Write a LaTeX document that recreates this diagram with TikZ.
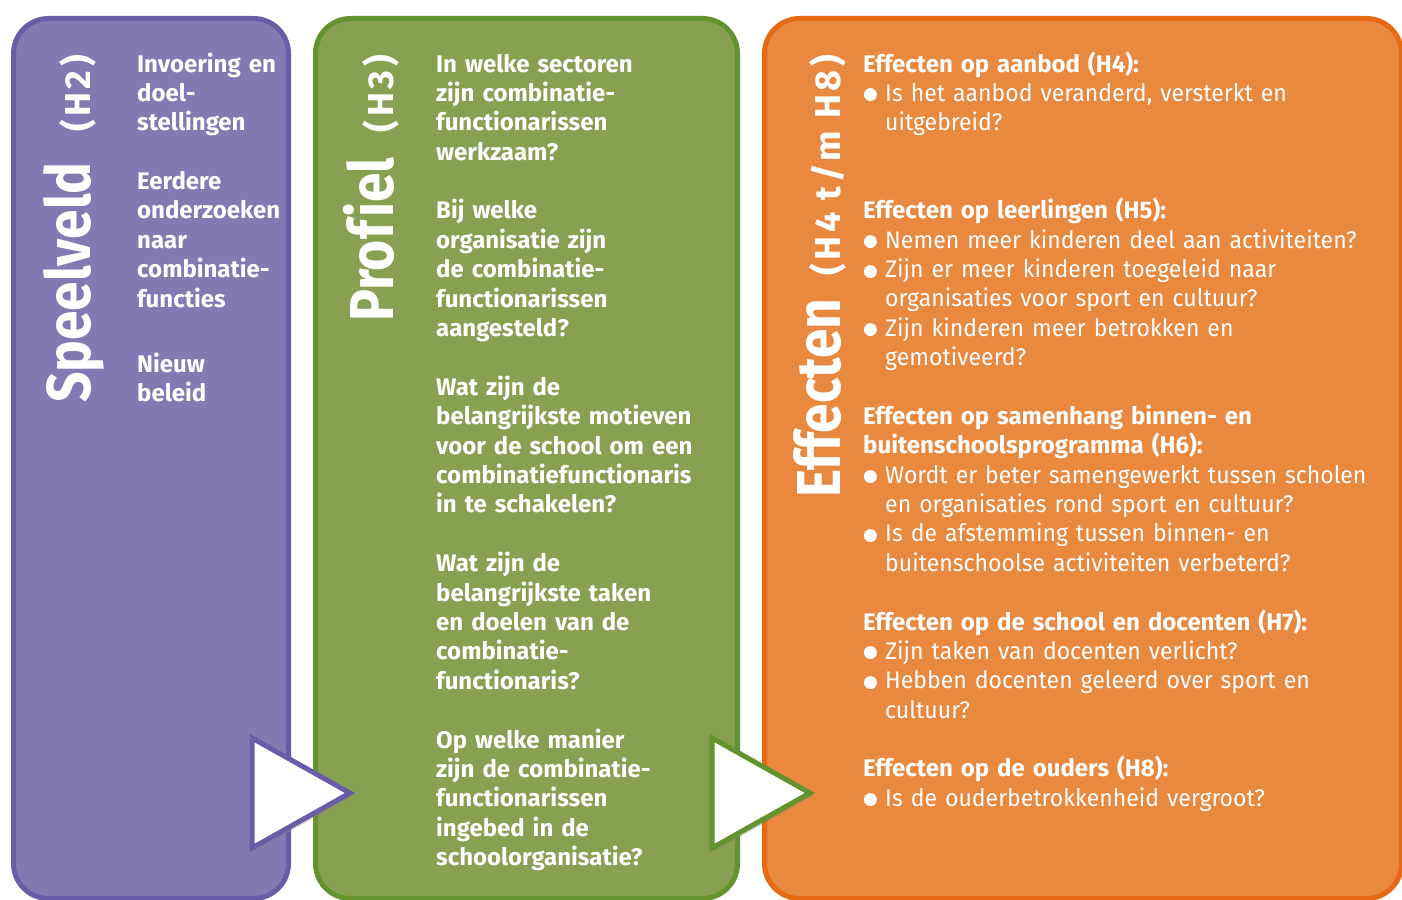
\documentclass[tikz,border=0pt]{standalone}
\usepackage{fontspec}
\setmainfont{Fira Sans}
\newfontfamily\titelfont{Fira Sans}[FakeStretch=0.86,Ligatures=NoCommon]
\newfontfamily\subtitelfont{Fira Sans}[LetterSpace=10]
\newfontfamily\bodyfont{Fira Sans}[FakeStretch=0.96]
\newfontfamily\symbfont{DejaVu Sans}
\usetikzlibrary{positioning,shadows}

\definecolor{paars}{HTML}{8479B3}
\definecolor{paarsrand}{HTML}{6A5CA6}
\definecolor{groen}{HTML}{88A052}
\definecolor{groenrand}{HTML}{63932D}
\definecolor{oranje}{HTML}{E9893F}
\definecolor{oranjerand}{HTML}{E56A12}

\newcommand{\blt}{\makebox[22pt][l]{\raisebox{1.5pt}{\symbfont\fontsize{17}{17}\selectfont ●}}}
\newcommand{\vraag}[1]{\par\hangindent=22pt\hangafter=1\noindent\blt#1}
\newcommand{\kop}[1]{{\rmfamily\bfseries #1}\par}
\newcommand{\leeg}{\par\vspace{29.37pt}}

\begin{document}
\begin{tikzpicture}[x=1pt,y=-1pt,
    panel/.style={draw,line width=5pt,rounded corners=35pt,inner sep=0pt,anchor=north west,
      minimum height=880pt,drop shadow={opacity=0.2,shadow xshift=2pt,shadow yshift=-2pt}},
    titel/.style={rotate=90,text=white,inner sep=0pt,font=\titelfont\bfseries\fontsize{62}{62}\selectfont},
    subtitel/.style={rotate=90,text=white,inner sep=0pt,anchor=base east,font=\subtitelfont\bfseries\fontsize{36}{36}\selectfont},
    tekst/.style={text=white,inner sep=0pt,anchor=base west,align=left,font=\bfseries\fontsize{24}{29.4}\selectfont},
    pijl/.style={fill=white,line width=5pt,line join=miter,drop shadow={opacity=0.3,shadow xshift=3pt,shadow yshift=-3pt}}]
  \fill[white] (0,0) rectangle (1402,899);
  \useasboundingbox (0,0) rectangle (1402,899);

  % de drie kolommen
  \node[panel,draw=paarsrand,fill=paars,minimum width=275pt]   (speelveld) at (11,16)  {};
  \node[panel,draw=groenrand,fill=groen,minimum width=422pt]   (profiel)   at (313,16) {};
  \node[panel,draw=oranjerand,fill=oranje,minimum width=637pt] (effecten)  at (762,16) {};

  % titels
  \node[titel,anchor=base west] (t1)  at (90,403)  {Speelveld};
  \node[subtitel]               (st1) at (90,55)   {(H2)};
  \node[titel,anchor=base west] (t2)  at (393,322) {Prof\kern3pt iel};
  \node[subtitel]               (st2) at (393,55)  {(H3)};
  \node[titel,anchor=base west] (t3)  at (840,498) {Effecten};
  \node[subtitel]               (st3) at (840,55)  {(H4 t/m H8)};

  % speelveld
  \node[tekst,text width=150pt] (inhoud) at (137,72)
    {Invoering en\\doel-\\stellingen\leeg Eerdere\\onderzoeken\\naar\\combinatie-\\functies};
  \node[tekst,text width=150pt] (beleid) at (137,372) {Nieuw\\beleid};

  % profiel
  \node[tekst,text width=295pt] (vragen) at (436,72)
    {In welke sectoren\\zijn combinatie-\\functionarissen\\werkzaam?\leeg
     Bij welke\\organisatie zijn\\de combinatie-\\functionarissen\\aangesteld?\leeg
     Wat zijn de\\belangrijkste motieven\\voor de school om een\\combinatiefunctionaris\\in te schakelen?\leeg
     Wat zijn de\\belangrijkste taken\\en doelen van de\\combinatie-\\functionaris?\leeg
     Op welke manier\\zijn de combinatie-\\functionarissen\\ingebed in de\\schoolorganisatie?};

  % effecten
  \node[tekst,text width=530pt,font=\bodyfont\mdseries\fontsize{24}{29.37}\selectfont] (lijst) at (863,72)
    {\kop{Effecten op aanbod (H4):}
     \vraag{Is het aanbod veranderd, versterkt en\newline uitgebreid?}\leeg\vspace{29.37pt}
     \kop{Effecten op leerlingen (H5):}
     \vraag{Nemen meer kinderen deel aan activiteiten?}
     \vraag{Zijn er meer kinderen toegeleid naar\newline organisaties voor sport en cultuur?}
     \vraag{Zijn kinderen meer betrokken en\newline gemotiveerd?}\leeg
     \kop{Effecten op samenhang binnen- en\newline buitenschoolsprogramma (H6):}
     \vraag{Wordt er beter samengewerkt tussen scholen\newline en organisaties rond sport en cultuur?}
     \vraag{Is de afstemming tussen binnen- en\newline buitenschoolse activiteiten verbeterd?}\leeg
     \kop{Effecten op de school en docenten (H7):}
     \vraag{Zijn taken van docenten verlicht?}
     \vraag{Hebben docenten geleerd over sport en\newline cultuur?}\leeg
     \kop{Effecten op de ouders (H8):}
     \vraag{Is de ouderbetrokkenheid vergroot?}};

  % pijlen tussen de kolommen
  \draw[pijl,draw=paarsrand] (252,738) -- (350,793) -- (252,848) -- cycle;
  \draw[pijl,draw=groenrand] (712,738) -- (810,793) -- (712,848) -- cycle;
\end{tikzpicture}
\end{document}
